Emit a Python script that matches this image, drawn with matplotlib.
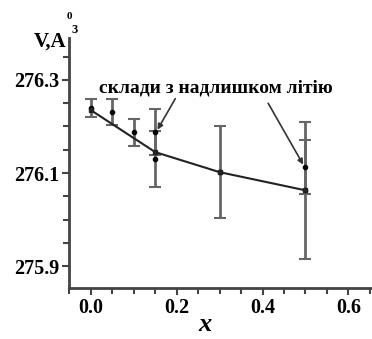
import matplotlib.pyplot as plt
from matplotlib.ticker import MultipleLocator

# compositions x and unit cell volume V (A^3)
x_main = [0.0, 0.05, 0.1, 0.15, 0.3, 0.5]
v_main = [276.240, 276.231, 276.188, 276.130, 276.102, 276.063]
err_main = [0.019, 0.028, 0.029, 0.060, 0.099, 0.147]

# compositions with lithium excess
x_exc = [0.15, 0.5]
v_exc = [276.188, 276.113]
err_exc = [0.049, 0.058]

# trend line
x_fit = [0.0, 0.15, 0.3, 0.5]
v_fit = [276.235, 276.145, 276.102, 276.063]

label_font = {'family': 'Liberation Serif', 'weight': 'bold'}

fig = plt.figure(figsize=(3.72, 3.39), dpi=100)
ax = fig.add_axes([0.1855, 0.150, 0.812, 0.738])

ax.errorbar(x_main, v_main, yerr=err_main, fmt='o', ms=3, color='black',
            ecolor='#666666', elinewidth=2, capsize=4, capthick=1.5, zorder=3)
ax.errorbar(x_exc, v_exc, yerr=err_exc, fmt='o', ms=3, color='black',
            ecolor='#666666', elinewidth=2, capsize=4, capthick=1.5, zorder=3)
ax.plot(x_fit, v_fit, '-', color='#222222', lw=1.5, marker='s', ms=3, zorder=4)

ax.set_xlim(-0.051, 0.653)
ax.set_ylim(275.853, 276.390)
ax.xaxis.set_minor_locator(MultipleLocator(0.05))
ax.yaxis.set_minor_locator(MultipleLocator(0.05))
ax.set_yticks([275.9, 276.1, 276.3])
ax.set_yticklabels(['275.9', '276.1', '276.3'])
ax.set_xticks([0.0, 0.2, 0.4, 0.6])
ax.set_xticklabels(['0.0', '0.2', '0.4', '0.6'])

for side in ['top', 'right']:
    ax.spines[side].set_visible(False)
for side in ['left', 'bottom']:
    ax.spines[side].set_linewidth(2)
    ax.spines[side].set_color('#444444')

ax.tick_params(which='both', direction='out', width=1.5, color='#444444')
ax.tick_params(which='major', length=5, pad=2)
ax.tick_params(which='minor', length=4)
for lab in ax.get_xticklabels() + ax.get_yticklabels():
    lab.set_fontfamily('Liberation Serif')
    lab.set_fontweight('bold')
    lab.set_fontsize(14.5)

ax.text(0.10, 0.80, 'склади з надлишком літію', transform=ax.transAxes,
        fontsize=14, ha='left', va='center', **label_font)
ax.annotate('', xy=(0.152, 276.188), xytext=(0.2, 276.265),
            arrowprops=dict(arrowstyle='-|>', color='#333333', lw=1.2,
                            mutation_scale=8))
ax.annotate('', xy=(0.498, 276.113), xytext=(0.41, 276.255),
            arrowprops=dict(arrowstyle='-|>', color='#333333', lw=1.2,
                            mutation_scale=8))

# y axis label: V, A with ring "0" and superscript 3
fig.text(0.092, 0.862, 'V,A', fontsize=15, ha='left', va='baseline',
         **label_font)
fig.text(0.178, 0.945, '0', fontsize=8, ha='left', va='baseline',
         **label_font)
fig.text(0.192, 0.902, '3', fontsize=9, ha='left', va='baseline',
         **label_font)

fig.text(0.55, 0.025, 'x', fontsize=19, ha='center', va='baseline',
         family='Liberation Serif', weight='bold', style='italic')

fig.savefig('out.png', dpi=100)
